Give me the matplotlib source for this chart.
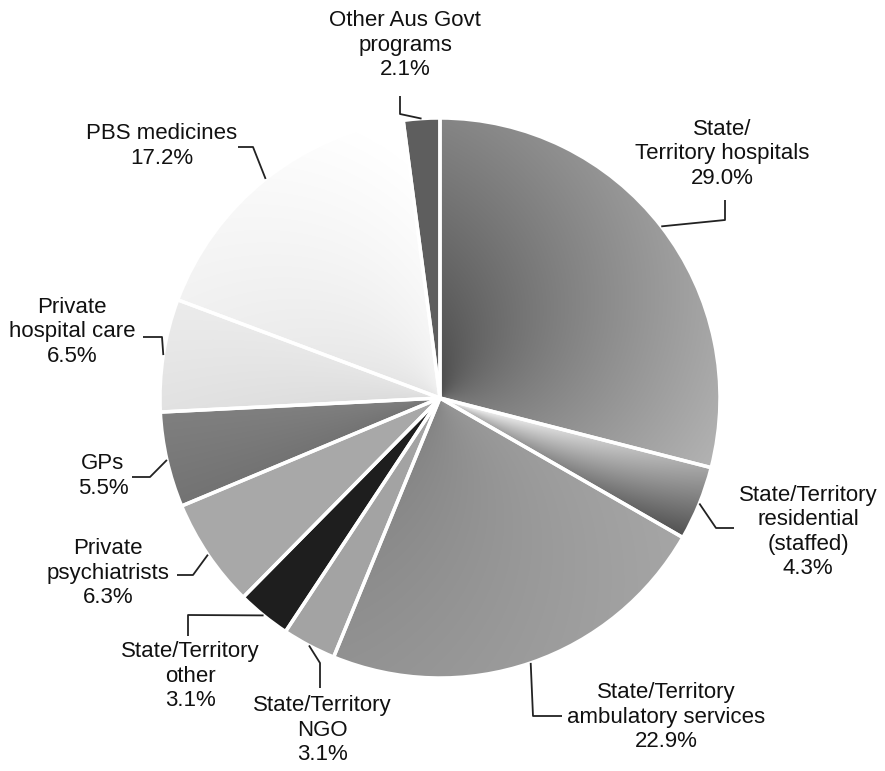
import numpy as np
import matplotlib.pyplot as plt

W, H = 885, 771

# spending shares, clockwise from 12 o'clock
categories = [
    "State/\nTerritory hospitals",
    "State/Territory\nresidential\n(staffed)",
    "State/Territory\nambulatory services",
    "State/Territory\nNGO",
    "State/Territory\nother",
    "Private\npsychiatrists",
    "GPs",
    "Private\nhospital care",
    "PBS medicines",
    "Other Aus Govt\nprograms",
]
shares = [29.0, 4.3, 22.9, 3.1, 3.1, 6.3, 5.5, 6.5, 17.2, 2.1]

# grey levels per slice: (start of sweep, end of sweep, change from centre to rim)
shades = [
    (0.40, 0.58, 0.24),
    (0.84, 0.50, -0.38),
    (0.62, 0.54, 0.06),
    (0.64, 0.64, 0.0),
    (0.12, 0.12, 0.0),
    (0.66, 0.66, 0.0),
    (0.45, 0.50, 0.0),
    (0.87, 0.91, 0.03),
    (0.92, 0.98, 0.06),
    (0.37, 0.37, 0.0),
]

# label centres and leader elbows, in pixels from the top-left corner
label_xy = [(722, 154), (808, 532), (666, 717), (322, 730), (190, 676),
            (108, 573), (103, 476), (72, 332), (162, 146), (405, 45)]
leaders = [
    [(725, 220), (725, 200)],
    [(716, 528), (734, 528)],
    [(533, 716), (562, 716)],
    [(320, 663), (320, 688)],
    [(188, 615), (188, 636)],
    [(193, 575), (177, 575)],
    [(150, 477), (132, 477)],
    [(162, 337), (143, 337)],
    [(253, 147), (238, 147)],
    [(400, 114), (400, 96)],
]

cx, cy, R = 440, H - 398, 280
FONT = ["Liberation Sans", "DejaVu Sans"]


def px(p):
    return p[0], H - p[1]


fig = plt.figure(figsize=(W / 100, H / 100), dpi=100)
ax = fig.add_axes([0, 0, 1, 1])

wedges, _ = ax.pie(shares, startangle=90, counterclock=False,
                   center=(cx, cy), radius=R,
                   wedgeprops=dict(edgecolor="white", linewidth=2.5))

# pixel grid over the pie for the shaded fills
n = 600
xs = np.linspace(cx - R, cx + R, n)
ys = np.linspace(cy - R, cy + R, n)
X, Y = np.meshgrid(xs, ys)
ang = np.degrees(np.arctan2(Y - cy, X - cx))
rad = np.clip(np.hypot(X - cx, Y - cy) / R, 0, 1)

for w, (g0, g1, dr) in zip(wedges, shades):
    span = w.theta2 - w.theta1
    t = np.clip(((w.theta2 - ang) % 360) / span, 0, 1)
    g = np.clip(g0 + (g1 - g0) * t + dr * (rad - 0.5), 0, 1)
    rgb = np.dstack([g, g, g])
    im = ax.imshow(rgb, extent=(cx - R, cx + R, cy - R, cy + R),
                   origin="lower", interpolation="bilinear", zorder=2)
    im.set_clip_path(w)
    w.set_facecolor("none")
    w.set_zorder(3)

for w, name, share, xy, elbow in zip(wedges, categories, shares, label_xy, leaders):
    mid = np.radians((w.theta1 + w.theta2) / 2)
    tip = (cx + R * np.cos(mid), cy + R * np.sin(mid))
    pts = [tip] + [px(p) for p in elbow]
    ax.plot([p[0] for p in pts], [p[1] for p in pts], color="#222222",
            lw=1.3, zorder=4, solid_capstyle="butt")
    ax.text(*px(xy), f"{name}\n{share:.1f}%", ha="center", va="center",
            fontsize=16, linespacing=1.22, family=FONT, color="#111111")

ax.set_xlim(0, W)
ax.set_ylim(0, H)
ax.set_aspect("auto")
ax.axis("off")

fig.savefig("out.png", dpi=100, facecolor="white")
